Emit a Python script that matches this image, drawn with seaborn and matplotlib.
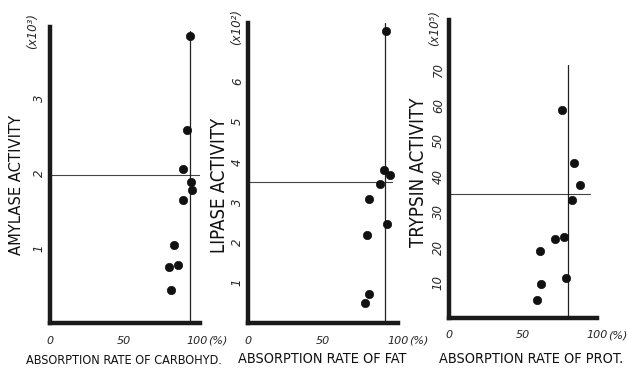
import os
import matplotlib
matplotlib.use("Agg")
import matplotlib.pyplot as plt
from matplotlib import font_manager
from matplotlib.font_manager import FontProperties
import pandas as pd
import seaborn as sns

# Absorption rate (%) vs. enzyme activity, one panel per nutrient
carb_rate = [95.2, 92.9, 90.2, 95.9, 96.3, 90.2, 84.5, 80.6, 86.8, 82.2]
amylase = [3.83, 2.58, 2.05, 1.88, 1.77, 1.64, 1.04, 0.75, 0.77, 0.44]

fat_rate = [92.3, 90.5, 94.5, 87.8, 80.5, 92.7, 79.1, 80.7, 77.8]
lipase = [7.24, 3.80, 3.68, 3.45, 3.08, 2.45, 2.18, 0.72, 0.49]

prot_rate = [76.6, 84.5, 88.8, 83.4, 77.7, 71.9, 61.8, 78.9, 62.2, 59.5]
trypsin = [58.7, 43.7, 37.4, 33.3, 22.9, 22.3, 19.0, 11.3, 9.7, 5.0]

# reference levels (horizontal activity level, vertical absorption rate)
ref_activity = [1.97, 3.5, 35.0]
ref_rate = [95.0, 91.6, 80.5]

x_labels = ["ABSORPTION RATE OF CARBOHYD.", "ABSORPTION RATE OF FAT",
            "ABSORPTION RATE OF PROT."]
y_labels = ["AMYLASE ACTIVITY", "LIPASE ACTIVITY", "TRYPSIN ACTIVITY"]
y_units = ["(x10\u00b3)", "(x10\u00b2)", "(x10\u2075)"]
y_ticks = [[1, 2, 3], [1, 2, 3, 4, 5, 6], [10, 20, 30, 40, 50, 60, 70]]
x_ticks = [0, 50, 100]
x_ticklabels = ["0", "50", "100"]
x_unit = "(%)"


def condensed_font():
    """Return a FontProperties for an upright, regular-weight condensed face, if any."""
    skip = ("bold", "italic", "oblique", "black", "light", "thin", "semi",
            "extra", "medium", "heavy", "mono", "serif")
    found = []
    for f in font_manager.fontManager.ttflist:
        key = (f.name + " " + os.path.basename(f.fname)).lower()
        if any(k in key for k in ("condensed", "narrow", "compressed")):
            if f.style == "normal" and not any(s in key.replace("sans", "")
                                               for s in skip):
                found.append(f)
    if not found:
        return FontProperties(family="DejaVu Sans")
    found.sort(key=lambda f: ("extra" in f.fname.lower(), len(f.fname)))
    return FontProperties(fname=found[0].fname)


sns.set_style("white")
plt.rcParams["font.family"] = ["DejaVu Sans"]
label_fp = condensed_font()

fig = plt.figure(figsize=(6.27, 3.70), dpi=100)
W, H = 627, 370
# axes boxes in pixels: left, top, right, bottom
boxes = [(50, 27, 200, 323), (248, 23, 398, 323), (449, 20, 597, 318)]
xlims = [(0, 102), (0, 100), (0, 100)]
ylims = [(0, 3.95), (0, 7.45), (0, 84)]
hline_ext = [1.0, 0.96, 0.95]
vline_ext = [0.985, 1.0, 71.4 / 84]
# label centres and lengths in pixels (x, y, length)
ylab_px = [(17, 185, 140), (220, 185, 136), (419, 172, 150)]
xlab_px = [(124, 360, 198), (322, 359, 169), (531, 359, 185)]
unit_px = [(33, 31), (237, 27), (435, 28)]

datasets = [(carb_rate, amylase), (fat_rate, lipase), (prot_rate, trypsin)]
fitted = []
axes = []

for i, (xs, ys) in enumerate(datasets):
    l, t, r, b = boxes[i]
    ax = fig.add_axes([l / W, (H - b) / H, (r - l) / W, (b - t) / H])
    axes.append(ax)
    ax.set_facecolor("none")
    df = pd.DataFrame({"rate": xs, "activity": ys})
    sns.scatterplot(data=df, x="rate", y="activity", ax=ax, color="#111111",
                    s=36, edgecolor="#111111", linewidth=0.5, zorder=3)
    ax.set_xlim(*xlims[i])
    ax.set_ylim(*ylims[i])

    ax.axhline(ref_activity[i], xmin=0, xmax=hline_ext[i], color="#444444", lw=0.8)
    ax.axvline(ref_rate[i], ymin=0, ymax=vline_ext[i], color="#222222", lw=0.9)

    for side in ["top", "right"]:
        ax.spines[side].set_visible(False)
    for side in ["left", "bottom"]:
        ax.spines[side].set_linewidth(3.2)
        ax.spines[side].set_color("#1a1a1a")

    ax.set_yticks(y_ticks[i])
    ax.set_yticklabels([str(v) for v in y_ticks[i]], rotation=90, va="center",
                       fontstyle="italic", fontsize=8.5)
    ax.set_xticks(x_ticks)
    ax.set_xticklabels(x_ticklabels, fontstyle="italic", fontsize=8)
    ax.tick_params(axis="both", direction="in", length=4, width=1.4,
                   color="#1a1a1a")
    ax.tick_params(axis="y", pad=3)
    ax.tick_params(axis="x", pad=9)

    to_axes = lambda px, py: ((px - l) / (r - l), (b - py) / (b - t))

    ylab = ax.set_ylabel(y_labels[i], fontproperties=label_fp, color="#111111")
    ylab.set_fontsize(16)
    ax.yaxis.set_label_coords(*to_axes(*ylab_px[i][:2]))
    ylab.set_va("center")
    ylab.set_ha("center")
    ylab.set_rotation_mode("anchor")
    fitted.append((ylab, ylab_px[i][2], "v"))

    xlab = ax.set_xlabel(x_labels[i], fontproperties=label_fp, color="#111111")
    xlab.set_fontsize(14)
    ax.xaxis.set_label_coords(*to_axes(*xlab_px[i][:2]))
    xlab.set_va("center")
    xlab.set_ha("center")
    fitted.append((xlab, xlab_px[i][2], "h"))

    ax.text(*to_axes(*unit_px[i]), y_units[i], transform=ax.transAxes,
            rotation=90, ha="center", va="center", fontsize=8.5, fontstyle="italic")

# scale the axis titles so their lengths fit the space beside each panel
fig.canvas.draw()
renderer = fig.canvas.get_renderer()
for txt, target, orient in fitted:
    bb = txt.get_window_extent(renderer)
    length = bb.height if orient == "v" else bb.width
    txt.set_fontsize(txt.get_fontsize() * target / length)

# percent sign written right after the last x tick value
for ax in axes:
    bb = ax.get_xticklabels()[-1].get_window_extent(renderer)
    fig.text(bb.x1 / W, (bb.y0 + bb.y1) / 2 / H, x_unit, ha="left",
             va="center", fontsize=8, fontstyle="italic")

fig.savefig("out.png", dpi=100)
